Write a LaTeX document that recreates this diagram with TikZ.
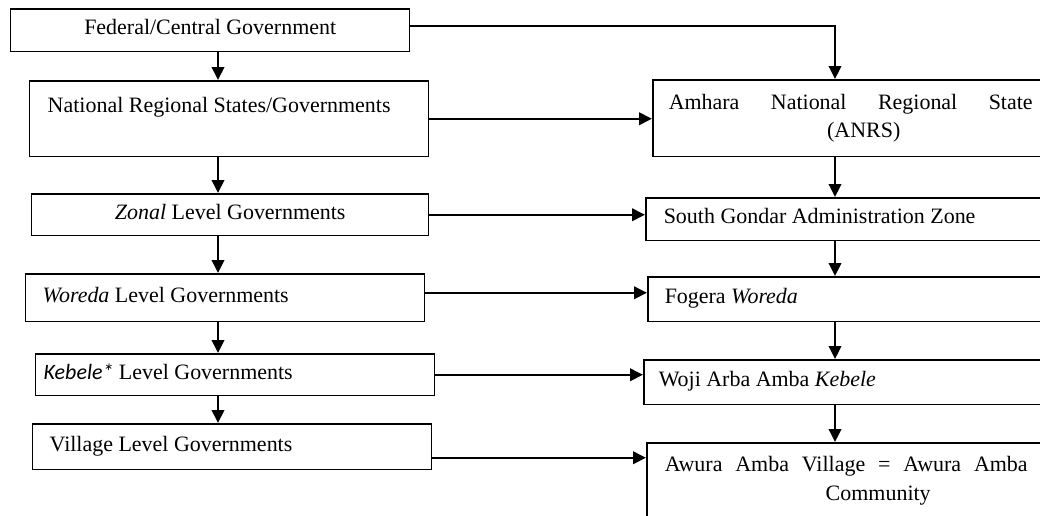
\documentclass[tikz,border=0pt]{standalone}
\usepackage{fontspec}
\setmainfont{Liberation Serif}
\newfontfamily\calfont{Carlito}
\usetikzlibrary{arrows.meta}
\tikzset{
  box/.style={draw,line width=0.85pt,anchor=north west,inner sep=0pt,
    font=\fontsize{12.5}{16.4}\selectfont,
    execute at begin node={\spaceskip=0pt\relax\xspaceskip=0pt\relax}},
  onebox/.style={box,text height=1.6ex,text depth=.45ex},
}
\begin{document}
\begin{tikzpicture}[x=0.02cm,y=-0.02cm,line width=1.1pt,
    >={Triangle[length=2.6mm,width=2.5mm]}]
  \useasboundingbox (0,0) rectangle (1040,515);
  \clip (0,0) rectangle (1040,515);
  % left column: levels of government
  \node[onebox,minimum width=7.98cm,minimum height=0.86cm] (fed) at (10,8) {Federal/Central Government};
  \node[box,text width=7.26cm,inner xsep=0.36cm,text height=0.64cm,text depth=0.88cm,align=left] (nat) at (29,80) {National Regional States/Governments};
  \node[onebox,minimum width=7.94cm,minimum height=0.84cm] (zon) at (31,193) {\textit{Zonal} Level Governments};
  \node[onebox,text width=7.30cm,inner xsep=0.34cm,minimum height=0.96cm,align=left] (wor) at (25,273) {\textit{Woreda} Level Governments};
  \node[onebox,text width=7.66cm,inner xsep=0.16cm,minimum height=0.84cm,align=left] (keb) at (35,353) {{\calfont\itshape Kebele*} Level Governments};
  \node[onebox,text width=7.30cm,inner xsep=0.34cm,minimum height=0.92cm,align=left] (vil) at (32,423) {Village Level Governments};
  % right column: the study area
  \node[box,text width=7.28cm,inner xsep=0.32cm,minimum height=1.54cm,align=center] (anrs) at (652,79)
    {\hbox to 7.28cm{Amhara\hfill National\hfill Regional\hfill State}\\\hspace*{0.52cm}(ANRS)};
  \node[onebox,text width=7.68cm,inner xsep=0.36cm,minimum height=0.86cm,align=left] (sgz) at (645,197) {South Gondar Administration Zone};
  \node[onebox,text width=7.72cm,inner xsep=0.34cm,minimum height=0.90cm,align=left] (fog) at (647,276) {Fogera \textit{Woreda}};
  \node[onebox,text width=7.80cm,inner xsep=0.30cm,minimum height=0.90cm,align=left] (woj) at (643,359) {Woji Arba Amba \textit{Kebele}};
  \node[box,text width=7.26cm,inner xsep=0.36cm,inner ysep=0.28cm,align=center] (awu) at (646,442)
    {\hbox to 7.26cm{Awura\hfill Amba\hfill Village\hfill =\hfill Awura\hfill Amba}\\\hspace*{1.28cm}Community};
  \coordinate (lspine) at (218,0);
  \coordinate (rspine) at (835,0);
  \foreach \a/\b in {fed/nat,nat/zon,zon/wor,wor/keb,keb/vil}
    \draw[->] (\a.south -| lspine) -- (\b.north -| lspine);
  \foreach \a/\b in {anrs/sgz,sgz/fog,fog/woj,woj/awu}
    \draw[->] (\a.south -| rspine) -- (\b.north -| rspine);
  \draw[->] ([yshift=0.09cm]fed.east) -| (anrs.north -| rspine);
  \draw[->] (nat.east) -- (nat.east -| anrs.west);
  \draw[->] (zon.east) -- (zon.east -| sgz.west);
  \draw[->] ([yshift=0.1cm]wor.east) -- ([yshift=0.1cm]wor.east -| fog.west);
  \draw[->] (keb.east) -- (keb.east -| woj.west);
  \draw[->] ([yshift=-0.22cm]vil.east) -- ([yshift=-0.22cm]vil.east -| awu.west);
\end{tikzpicture}
\end{document}
